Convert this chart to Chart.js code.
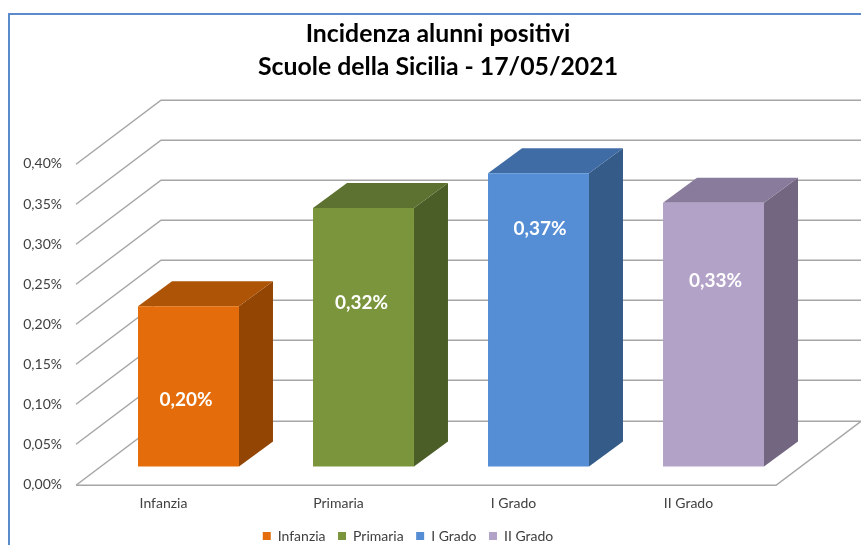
<!DOCTYPE html>
<html>
<head>
<meta charset="utf-8">
<style>
html,body{margin:0;padding:0;background:#fff;overflow:hidden}
#wrap{position:relative;width:861px;height:545px}
</style>
<script src="https://cdn.jsdelivr.net/npm/chart.js@4"></script>
</head>
<body>
<div id="wrap"><canvas id="c" width="861" height="545"></canvas></div>
<script>
const titleLines = ["Incidenza alunni positivi", "Scuole della Sicilia - 17/05/2021"];
const categories = ["Infanzia", "Primaria", "I Grado", "II Grado"];
const values = [0.20, 0.3225, 0.366, 0.329];
const yTicks = [0, 0.05, 0.10, 0.15, 0.20, 0.25, 0.30, 0.35, 0.40];
const frontColors = ["#E46C0A", "#7B953D", "#558ED5", "#B3A2C7"];
const topColors = ["#AE5407", "#5D7130", "#406CA5", "#887B9B"];
const sideColors = ["#934503", "#4C5E27", "#355B88", "#726680"];

const FONT = "Lato, 'Open Sans', sans-serif";
const fmt = v => v.toFixed(2).replace(".", ",") + "%";

// 3D look
const WALL = {dx: 85, dy: 64};
const BAR_SHIFT = {x: 25, y: -18};
const BAR_DEPTH = {dx: 34, dy: 25};
const LABEL_NUDGE = [{x: -2.5, y: 14}, {x: -2, y: -34}, {x: 1.5, y: -91}, {x: 2, y: -54}];

const scene = {
  id: "scene",
  afterLayout(chart) {
    const lg = chart.legend, tb = chart.titleBlock;
    lg.left += 20; lg.right += 20;
    lg.top = 516.5; lg.bottom = 545;
    tb.left = 15; tb.right = 861;
  },
  beforeDraw(chart) {
    const ctx = chart.ctx;
    ctx.save();
    ctx.fillStyle = "#fff";
    ctx.fillRect(0, 0, chart.width, chart.height);
    ctx.strokeStyle = "#5B8BCB";
    ctx.lineWidth = 2;
    ctx.beginPath();
    ctx.moveTo(9, chart.height);
    ctx.lineTo(9, 14);
    ctx.lineTo(chart.width, 14);
    ctx.stroke();
    ctx.restore();
  },
  beforeDatasetsDraw(chart) {
    const ctx = chart.ctx, {x, y} = chart.scales;
    const l = x.left, r = x.right;
    ctx.save();
    ctx.strokeStyle = "#A6A6A6";
    ctx.lineWidth = 1.5;
    yTicks.forEach(t => {
      const py = Math.round(y.getPixelForValue(t)) + 0.25;
      ctx.beginPath();
      ctx.moveTo(l, py);
      ctx.lineTo(l + WALL.dx, py - WALL.dy);
      ctx.lineTo(r + WALL.dx, py - WALL.dy);
      ctx.stroke();
    });
    // floor
    const p0 = Math.round(y.getPixelForValue(0)) + 0.25;
    ctx.beginPath();
    ctx.moveTo(l, p0);
    ctx.lineTo(r, p0);
    ctx.lineTo(r + WALL.dx, p0 - WALL.dy);
    ctx.stroke();
    ctx.restore();

    ctx.save();
    ctx.translate(BAR_SHIFT.x, BAR_SHIFT.y);
    const meta = chart.getDatasetMeta(0);
    meta.data.forEach((b, i) => {
      const L = b.x - b.width / 2, R = b.x + b.width / 2, T = b.y, B = b.base;
      const d = BAR_DEPTH;
      ctx.fillStyle = sideColors[i];
      ctx.beginPath();
      ctx.moveTo(R, T); ctx.lineTo(R + d.dx, T - d.dy); ctx.lineTo(R + d.dx, B - d.dy); ctx.lineTo(R, B);
      ctx.closePath(); ctx.fill();
      ctx.fillStyle = topColors[i];
      ctx.beginPath();
      ctx.moveTo(L, T); ctx.lineTo(L + d.dx, T - d.dy); ctx.lineTo(R + d.dx, T - d.dy); ctx.lineTo(R, T);
      ctx.closePath(); ctx.fill();
    });
  },
  afterDatasetsDraw(chart) {
    const ctx = chart.ctx;
    const meta = chart.getDatasetMeta(0);
    ctx.fillStyle = "#fff";
    ctx.font = "bold 19px " + FONT;
    ctx.textAlign = "center";
    ctx.textBaseline = "middle";
    meta.data.forEach((b, i) => {
      const cy = (b.y + b.base) / 2;
      ctx.fillText(fmt(values[i]), b.x + LABEL_NUDGE[i].x, cy + LABEL_NUDGE[i].y);
    });
    ctx.restore();
  }
};

new Chart(document.getElementById("c"), {
  type: "bar",
  data: {
    labels: categories,
    datasets: [{
      data: values,
      backgroundColor: frontColors,
      borderWidth: 0,
      barPercentage: 0.577,
      categoryPercentage: 1
    }]
  },
  options: {
    responsive: false,
    animation: false,
    events: [],
    clip: false,
    layout: {padding: {left: 0, right: 85, top: 0, bottom: 0}},
    scales: {
      x: {
        grid: {display: false, drawTicks: false},
        border: {display: false},
        ticks: {color: "#404040", font: {family: FONT, size: 14}, padding: 11, maxRotation: 0},
        afterFit: s => { s.height = 24; }
      },
      y: {
        min: 0, max: 0.4,
        afterBuildTicks: s => { s.ticks = yTicks.map(v => ({value: v})); },
        grid: {display: false, drawTicks: false},
        border: {display: false},
        ticks: {color: "#404040", font: {family: FONT, size: 14}, padding: 14, callback: v => fmt(v)},
        afterFit: s => { s.width = 76; }
      }
    },
    plugins: {
      tooltip: {enabled: false},
      title: {
        display: true,
        text: titleLines,
        color: "#000",
        font: {family: FONT, size: 24.8, weight: "bold", lineHeight: 1.33},
        padding: {top: 18, bottom: 80}
      },
      legend: {
        position: "bottom",
        labels: {
          color: "#404040",
          font: {family: FONT, size: 14},
          boxWidth: 8, boxHeight: 8, padding: 12.5,
          generateLabels: () => categories.map((c, i) => ({
            text: c, fillStyle: frontColors[i], strokeStyle: frontColors[i], lineWidth: 0, index: i, fontColor: "#404040"
          }))
        }
      }
    }
  },
  plugins: [scene]
});
</script>
</body>
</html>
